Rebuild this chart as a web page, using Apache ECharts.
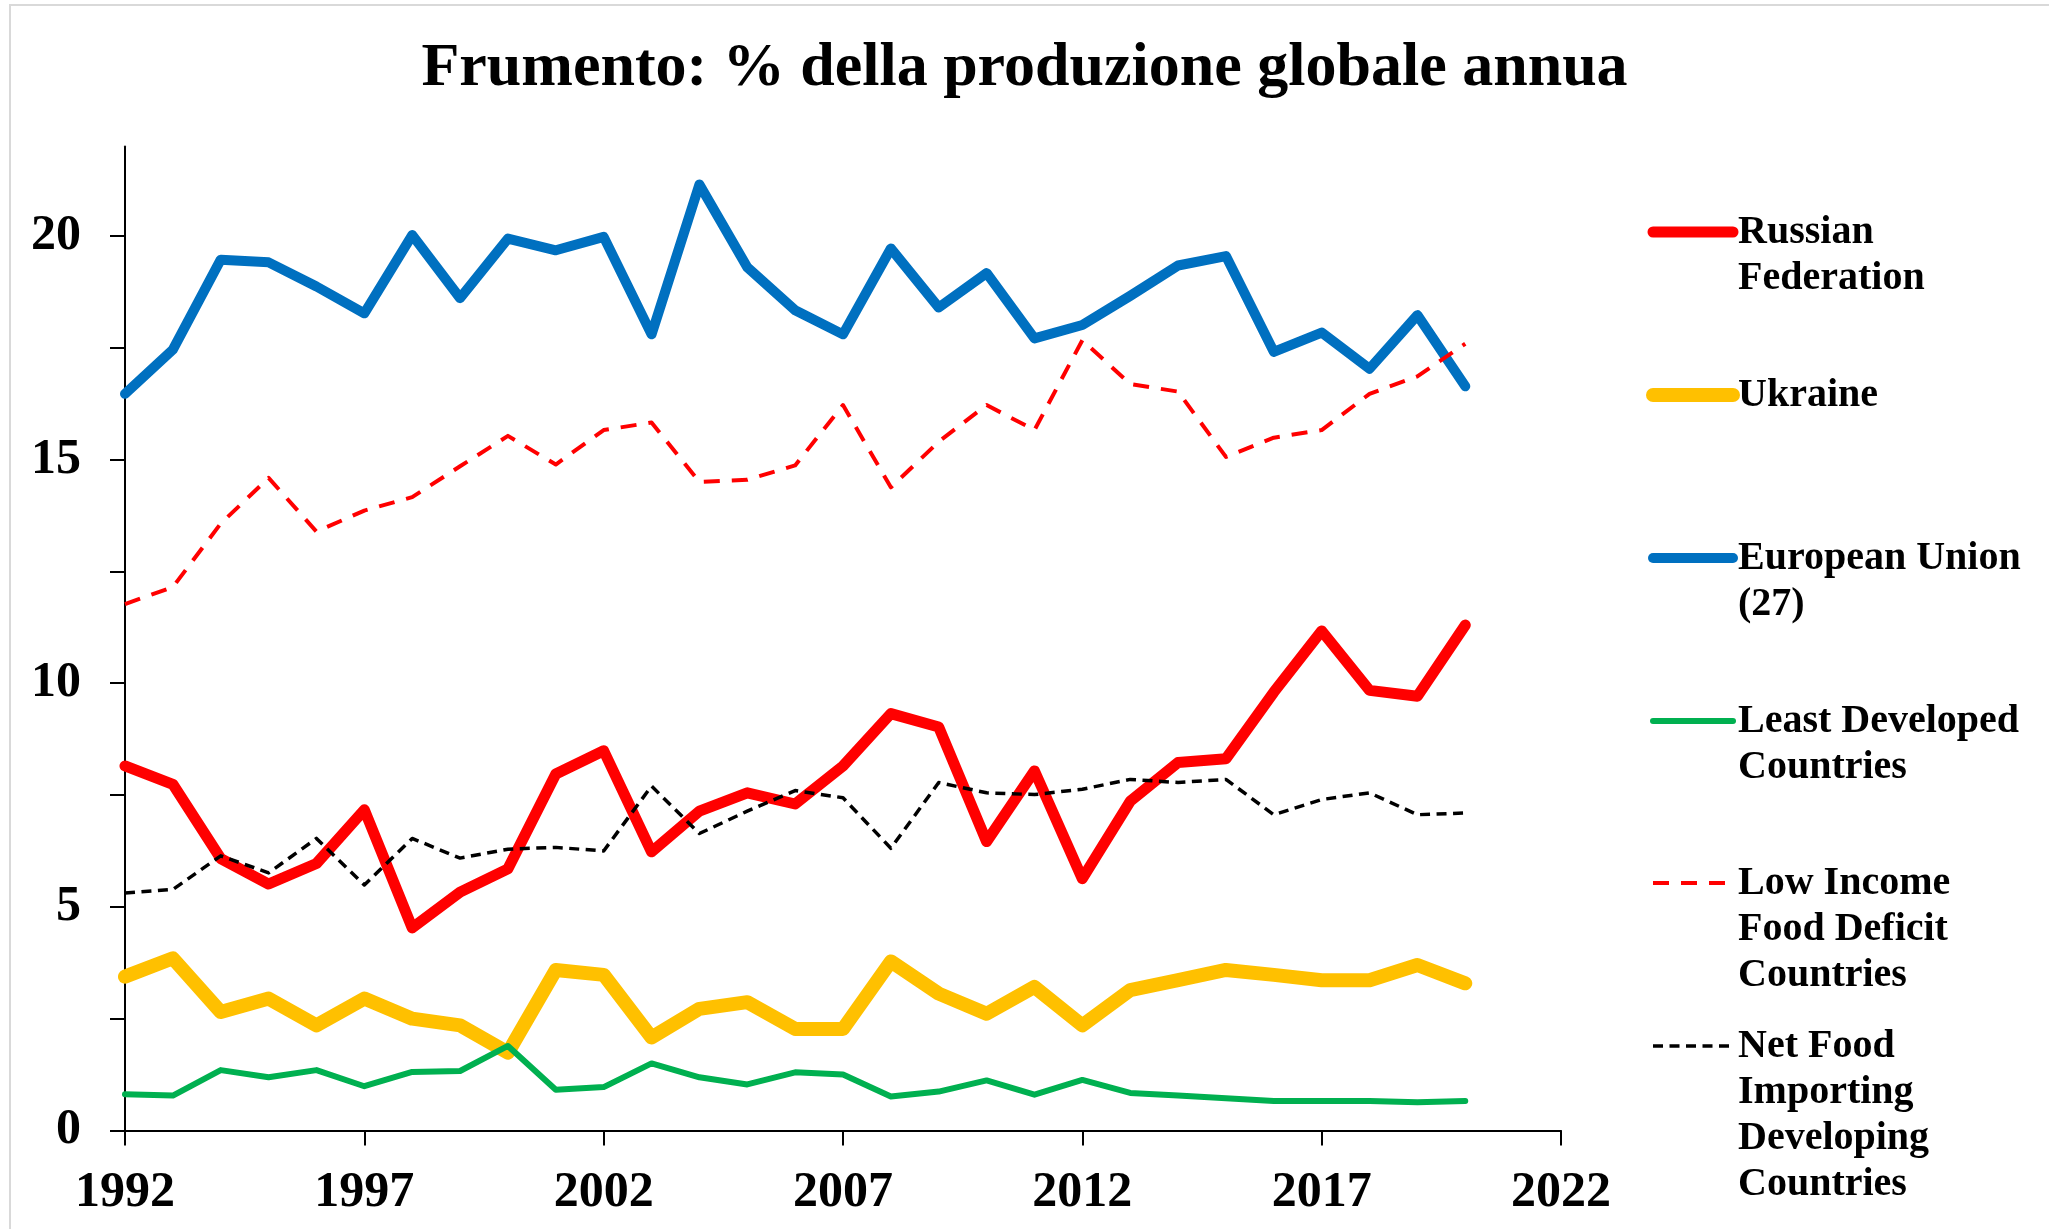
<!DOCTYPE html>
<html>
<head>
<meta charset="utf-8">
<title>Frumento</title>
<script src="https://cdn.jsdelivr.net/npm/echarts@6/dist/echarts.min.js"></script>
<style>
  html, body { margin: 0; padding: 0; background: #fff; }
  #main { width: 2049px; height: 1229px; }
</style>
</head>
<body>
<div id="main"></div>
<script>
// dati (% della produzione mondiale di frumento)
var years = [1992, 1993, 1994, 1995, 1996, 1997, 1998, 1999, 2000, 2001,
             2002, 2003, 2004, 2005, 2006, 2007, 2008, 2009, 2010, 2011,
             2012, 2013, 2014, 2015, 2016, 2017, 2018, 2019, 2020];

var russia = [8.15, 7.74, 6.08, 5.51, 5.97, 7.17, 4.53, 5.33, 5.85, 7.97,
              8.49, 6.23, 7.14, 7.55, 7.30, 8.15, 9.32, 9.02, 6.46, 8.04,
              5.63, 7.36, 8.23, 8.31, 9.80, 11.17, 9.84, 9.71, 11.30];
var ukraine = [3.44, 3.85, 2.65, 2.95, 2.35, 2.95, 2.50, 2.35, 1.74, 3.59,
               3.48, 2.08, 2.72, 2.87, 2.27, 2.27, 3.78, 3.06, 2.61, 3.21,
               2.35, 3.14, 3.36, 3.59, 3.48, 3.36, 3.36, 3.70, 3.29];
var eu27 = [16.47, 17.46, 19.47, 19.41, 18.87, 18.27, 20.02, 18.61, 19.94, 19.68,
            19.98, 17.80, 21.15, 19.30, 18.34, 17.80, 19.72, 18.40, 19.17, 17.71,
            18.01, 18.66, 19.34, 19.55, 17.41, 17.84, 17.03, 18.23, 16.64];
var ldc = [0.81, 0.78, 1.35, 1.19, 1.35, 0.99, 1.31, 1.33, 1.89, 0.91,
           0.97, 1.50, 1.19, 1.03, 1.30, 1.25, 0.76, 0.87, 1.12, 0.80,
           1.13, 0.84, 0.78, 0.72, 0.66, 0.66, 0.66, 0.63, 0.66];
var lifdc = [11.77, 12.15, 13.57, 14.59, 13.39, 13.86, 14.16, 14.85, 15.53, 14.89,
             15.66, 15.83, 14.50, 14.55, 14.87, 16.22, 14.38, 15.40, 16.22, 15.66,
             17.67, 16.69, 16.52, 15.06, 15.49, 15.66, 16.47, 16.86, 17.59];
var nfidc = [5.31, 5.39, 6.14, 5.76, 6.53, 5.49, 6.53, 6.09, 6.29, 6.33,
             6.25, 7.70, 6.64, 7.14, 7.60, 7.44, 6.31, 7.78, 7.55, 7.51,
             7.63, 7.85, 7.78, 7.85, 7.06, 7.40, 7.55, 7.06, 7.10];

var seriesNames = ['Russian Federation', 'Ukraine', 'European Union (27)',
                   'Least Developed Countries', 'Low Income Food Deficit Countries',
                   'Net Food Importing Developing Countries'];
var legendLabels = ['Russian\nFederation', 'Ukraine', 'European Union\n(27)',
                    'Least Developed\nCountries', 'Low Income\nFood Deficit\nCountries',
                    'Net Food\nImporting\nDeveloping\nCountries'];
var xTicks = [1992, 1997, 2002, 2007, 2012, 2017, 2022];
var yLabels = [0, 5, 10, 15, 20];
var yTicks = [0, 2.5, 5, 7.5, 10, 12.5, 15, 17.5, 20];

var allValues = [russia, ukraine, eu27, ldc, lifdc, nfidc];

// stili delle linee
var styles = [
  { color: '#FF0000', width: 11, type: 'solid', cap: 'round' },
  { color: '#FFC000', width: 14, type: 'solid', cap: 'round' },
  { color: '#0070C0', width: 10, type: 'solid', cap: 'round' },
  { color: '#00B050', width: 6, type: 'solid', cap: 'round' },
  { color: '#FF0000', width: 4, type: [16, 12], cap: 'butt' },
  { color: '#000000', width: 3.5, type: [10, 6.5], cap: 'butt' }
];
var legendY = [232, 395, 558, 721, 883, 1046];

var font = 'Liberation Serif';

var myChart = echarts.init(document.getElementById('main'));

function buildSeries() {
  var out = [];
  for (var i = 0; i < allValues.length; i++) {
    var pts = [];
    for (var j = 0; j < years.length; j++) {
      pts.push([years[j], allValues[i][j]]);
    }
    out.push({
      name: seriesNames[i],
      type: 'line',
      data: pts,
      symbol: 'none',
      silent: true,
      lineStyle: {
        color: styles[i].color,
        width: styles[i].width,
        type: styles[i].type,
        cap: styles[i].cap,
        join: 'round'
      }
    });
  }
  return out;
}

function buildGraphic() {
  var g = [{
    type: 'rect',
    silent: true,
    z: -10,
    shape: { x: 10, y: 5, width: 2200, height: 1400 },
    style: { fill: 'none', stroke: '#D9D9D9', lineWidth: 2 }
  }];
  for (var i = 0; i < legendLabels.length; i++) {
    var s = styles[i];
    g.push({
      type: 'line',
      silent: true,
      shape: { x1: 1653, y1: legendY[i], x2: 1733, y2: legendY[i] },
      style: {
        stroke: s.color,
        lineWidth: s.width,
        lineDash: s.type === 'solid' ? null : s.type,
        lineCap: s.cap
      }
    });
    g.push({
      type: 'text',
      silent: true,
      style: {
        x: 1738,
        y: legendY[i] - 22,
        text: legendLabels[i],
        fontFamily: font,
        fontWeight: 'bold',
        fontSize: 40,
        lineHeight: 46,
        fill: '#000',
        verticalAlign: 'top'
      }
    });
  }
  return g;
}

var option = {
  animation: false,
  backgroundColor: '#fff',
  title: {
    text: 'Frumento: % della produzione globale annua',
    left: 'center',
    top: 38,
    padding: [0, 0, 0, 16],
    textStyle: {
      fontFamily: font,
      fontWeight: 'bold',
      fontSize: 62,
      color: '#000'
    }
  },
  grid: {
    left: 125,
    right: 488,
    top: 146.5,
    bottom: 98.5,
    outerBoundsMode: 'none'
  },
  xAxis: {
    type: 'value',
    min: 1992,
    max: 2022,
    interval: 5,
    splitLine: { show: false },
    axisLine: { show: true, onZero: false, lineStyle: { color: '#000', width: 2 } },
    axisTick: { show: true, length: 15, lineStyle: { color: '#000', width: 2 } },
    axisLabel: {
      margin: 38,
      fontFamily: font,
      fontWeight: 'bold',
      fontSize: 50,
      color: '#000',
      formatter: function (v) { return xTicks.indexOf(v) >= 0 ? String(v) : ''; }
    }
  },
  yAxis: {
    type: 'value',
    min: 0,
    max: 22,
    splitLine: { show: false },
    axisLine: { show: true, lineStyle: { color: '#000', width: 2 } },
    axisTick: {
      show: true,
      length: 15,
      customValues: yTicks,
      lineStyle: { color: '#000', width: 2 }
    },
    axisLabel: {
      margin: 44,
      customValues: yLabels,
      fontFamily: font,
      fontWeight: 'bold',
      fontSize: 50,
      color: '#000'
    }
  },
  series: buildSeries(),
  graphic: buildGraphic()
};

myChart.setOption(option, true);
</script>
</body>
</html>
